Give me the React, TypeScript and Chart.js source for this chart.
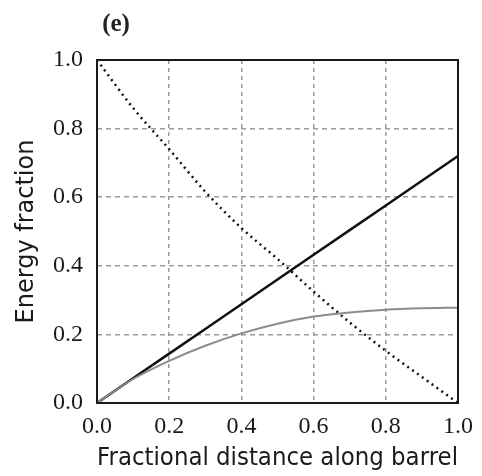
import React, { useEffect, useRef } from "react";
import { Chart, registerables } from "chart.js";

Chart.register(...registerables);

const xValues = [0, 0.1, 0.2, 0.3, 0.4, 0.5, 0.6, 0.7, 0.8, 0.9, 1.0];
const totalEnergy = [0, 0.072, 0.144, 0.216, 0.288, 0.36, 0.432, 0.504, 0.576, 0.648, 0.72];
const grayEnergy = [0, 0.07, 0.123, 0.167, 0.203, 0.231, 0.252, 0.264, 0.272, 0.276, 0.278];
const dottedEnergy = [1.0, 0.86, 0.74, 0.616, 0.51, 0.42, 0.325, 0.235, 0.152, 0.076, 0];
const tickValues = [0, 0.2, 0.4, 0.6, 0.8, 1.0];
const panelLabel = "(e)";
const xTitle = "Fractional distance along barrel";
const yTitle = "Energy fraction";

const toPoints = (ys: number[]) => xValues.map((x, i) => ({ x, y: ys[i] }));

const frameAndLabel = {
  id: "frameAndLabel",
  afterDraw(chart: any) {
    const { ctx, chartArea } = chart;
    ctx.save();
    ctx.strokeStyle = "#1a1a1a";
    ctx.lineWidth = 2;
    ctx.setLineDash([]);
    ctx.strokeRect(chartArea.left, chartArea.top, chartArea.right - chartArea.left, chartArea.bottom - chartArea.top);
    ctx.fillStyle = "#222";
    ctx.font = "bold 25px 'Liberation Serif'";
    ctx.textAlign = "center";
    ctx.textBaseline = "middle";
    ctx.fillText(panelLabel, 116, 25);
    ctx.restore();
  },
};

export default function App() {
  const ref = useRef<HTMLCanvasElement | null>(null);
  useEffect(() => {
    if (!ref.current) return;
    const tickFont = { family: "'Liberation Serif'", size: 24 };
    const titleFont = { family: "'DejaVu Sans'", size: 24 };
    const chart = new Chart(ref.current, {
      type: "line",
      data: {
        datasets: [
          {
            data: toPoints(grayEnergy),
            borderColor: "#8c8c8c",
            borderWidth: 2,
            pointRadius: 0,
            cubicInterpolationMode: "monotone",
          },
          {
            data: toPoints(totalEnergy),
            borderColor: "#111",
            borderWidth: 2.5,
            pointRadius: 0,
          },
          {
            data: toPoints(dottedEnergy),
            borderColor: "#111",
            borderWidth: 2.5,
            borderDash: [2, 4],
            pointRadius: 0,
            cubicInterpolationMode: "monotone",
          },
        ],
      },
      options: {
        animation: false,
        responsive: false,
        devicePixelRatio: 1,
        layout: { padding: { left: 0, top: 60, right: 19, bottom: 0 } },
        plugins: { legend: { display: false }, tooltip: { enabled: false } },
        scales: {
          x: {
            type: "linear",
            min: 0,
            max: 1,
            afterBuildTicks: (s: any) => {
              s.ticks = tickValues.map((v) => ({ value: v }));
            },
            afterFit: (s: any) => {
              s.height = 73;
            },
            ticks: {
              font: tickFont,
              color: "#1a1a1a",
              padding: 9,
              maxRotation: 0,
              callback: (v: any) => Number(v).toFixed(1),
            },
            grid: { color: "#9a9a9a", lineWidth: 1.5, drawTicks: false, borderDash: [4, 4] },
            border: { display: false, dash: [4, 4] },
            title: { display: true, text: xTitle, font: titleFont, color: "#1a1a1a", padding: { top: 0, bottom: 3 } },
          },
          y: {
            type: "linear",
            min: 0,
            max: 1,
            afterBuildTicks: (s: any) => {
              s.ticks = tickValues.map((v) => ({ value: v }));
            },
            afterFit: (s: any) => {
              s.width = 97;
            },
            ticks: {
              font: tickFont,
              color: "#1a1a1a",
              padding: 14,
              callback: (v: any) => Number(v).toFixed(1),
            },
            grid: { color: "#9a9a9a", lineWidth: 1.5, drawTicks: false, borderDash: [5, 4] },
            border: { display: false, dash: [5, 4] },
            title: { display: true, text: yTitle, font: titleFont, color: "#1a1a1a", padding: { top: 12, bottom: 0 } },
          },
        },
      },
      plugins: [frameAndLabel],
    } as any);
    return () => chart.destroy();
  }, []);
  return (
    <div style={{ position: "fixed", left: 0, top: 0, width: 482, height: 476, background: "#fff" }}>
      <canvas ref={ref} width={482} height={476} style={{ display: "block" }} />
    </div>
  );
}
